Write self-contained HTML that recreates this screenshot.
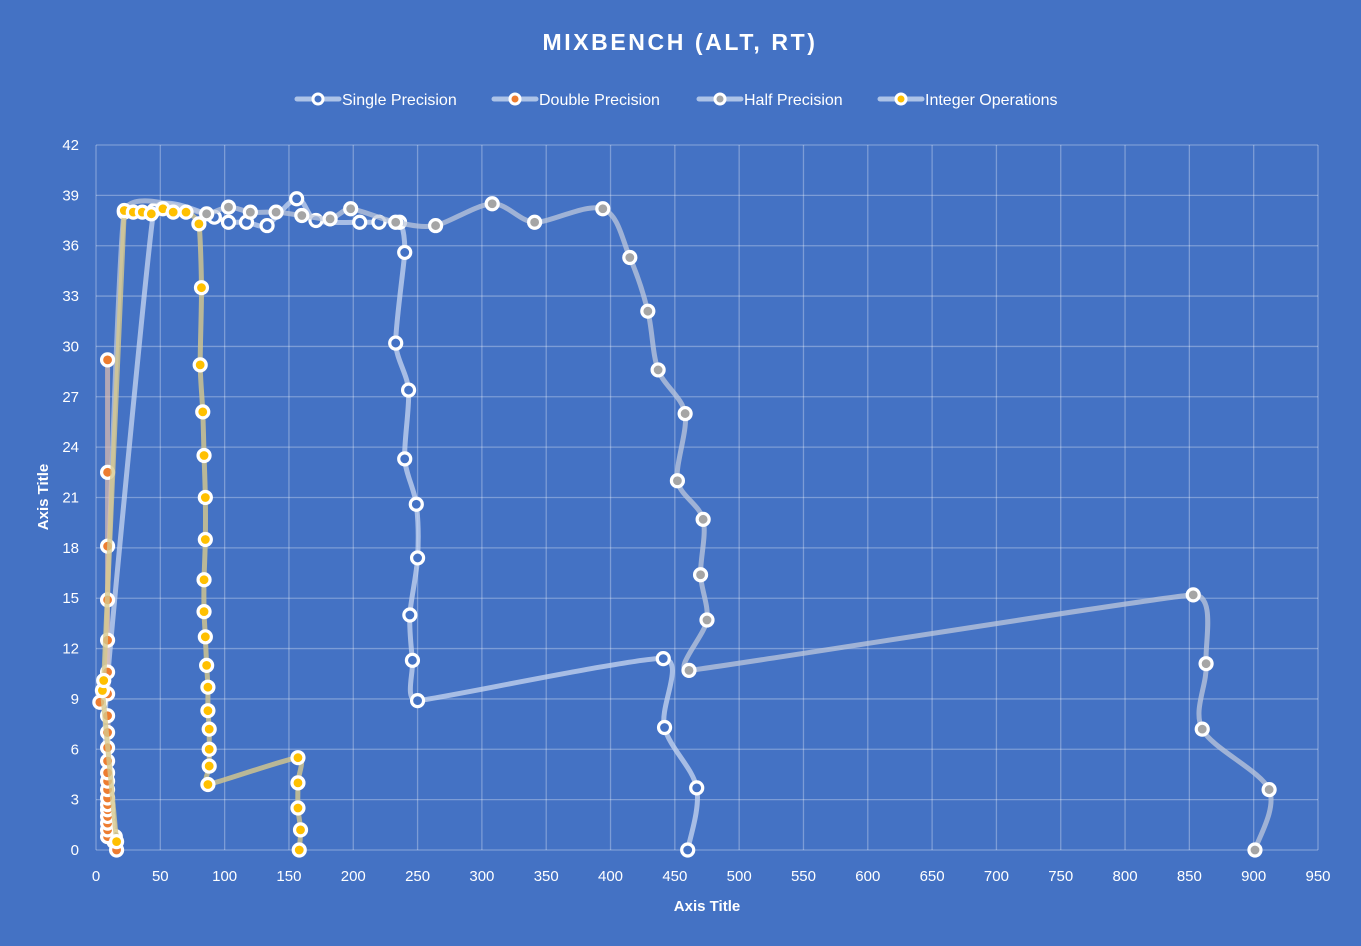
<!DOCTYPE html>
<html><head><meta charset="utf-8"><style>
body{margin:0;background:#4472c4;}
svg{display:block;font-family:"Liberation Sans",sans-serif;}
</style></head><body>
<svg id="chart" width="1361" height="946">
<rect width="1361" height="946" fill="#4472c4"/>
<text x="680" y="50" text-anchor="middle" fill="#fff" font-size="23" font-weight="bold" letter-spacing="2.6">MIXBENCH  (ALT, RT)</text>
<g id="grid"></g>
<g id="series"></g>
<g id="ticks"></g>
<text x="707" y="911" text-anchor="middle" fill="#fff" font-size="15" font-weight="bold">Axis Title</text>
<text transform="translate(48,497) rotate(-90)" text-anchor="middle" fill="#fff" font-size="15" font-weight="bold">Axis Title</text>
<g id="legend"></g>
</svg>
<script>
const xTicks=[0,50,100,150,200,250,300,350,400,450,500,550,600,650,700,750,800,850,900,950];
const yTicks=[0,3,6,9,12,15,18,21,24,27,30,33,36,39,42];
const seriesNames=["Single Precision","Double Precision","Half Precision","Integer Operations"];
const singleX=[14,10,8,45,92,103,117,133,156,171,205,220,236,240,233,243,240,249,250,244,246,250,441,442,467,460];
const singleY=[0.5,1.5,9.3,38.1,37.7,37.4,37.4,37.2,38.8,37.5,37.4,37.4,37.4,35.6,30.2,27.4,23.3,20.6,17.4,14,11.3,8.9,11.4,7.3,3.7,0];
const doubleX=[16,9,9,9,9,9,9,9,9,9,9,9,9,9,9,3,9,9,9,9,9,9,9];
const doubleY=[0,0.8,1.2,1.6,2.0,2.4,2.7,3.1,3.6,4.1,4.6,5.3,6.1,7.0,8.0,8.8,9.3,10.6,12.5,14.9,18.1,22.5,29.2];
const halfX=[15,7,22,86,103,120,140,160,182,198,233,264,308,341,394,415,429,437,458,452,472,470,475,461,853,863,860,912,901];
const halfY=[0.8,9.4,38.0,37.9,38.3,38.0,38.0,37.8,37.6,38.2,37.4,37.2,38.5,37.4,38.2,35.3,32.1,28.6,26.0,22.0,19.7,16.4,13.7,10.7,15.2,11.1,7.2,3.6,0];
const intX=[16,5,6,22,29,36,43,52,60,70,80,82,81,83,84,85,85,84,84,85,86,87,87,88,88,88,87,157,157,157,159,158];
const intY=[0.5,9.5,10.1,38.1,38.0,38.0,37.9,38.2,38.0,38.0,37.3,33.5,28.9,26.1,23.5,21.0,18.5,16.1,14.2,12.7,11.0,9.7,8.3,7.2,6.0,5.0,3.9,5.5,4.0,2.5,1.2,0];

const NS="http://www.w3.org/2000/svg";
const X0=96,X1=1318,Y0=850,Y1=145;
const sx=v=>X0+v*(X1-X0)/950;
const sy=v=>Y0-v*(Y0-Y1)/42;
function mk(tag,attrs,parent){const e=document.createElementNS(NS,tag);for(const k in attrs)e.setAttribute(k,attrs[k]);parent.appendChild(e);return e;}
const grid=document.getElementById('grid'),ticks=document.getElementById('ticks');
xTicks.forEach(t=>{
  const l=mk('line',{x1:sx(t),x2:sx(t),y1:Y1,y2:Y0,stroke:'rgba(255,255,255,0.3)','stroke-width':1.3},grid);
  
  
  const tx=mk('text',{x:sx(t),y:881,'text-anchor':'middle',fill:'#fff','font-size':15},ticks);
  tx.textContent=t;
  
  
});
yTicks.forEach(t=>{
  const l=mk('line',{x1:X0,x2:X1,y1:sy(t),y2:sy(t),stroke:'rgba(255,255,255,0.3)','stroke-width':1.3},grid);
  
  
  const tx=mk('text',{x:79,y:sy(t)+5,'text-anchor':'end',fill:'#fff','font-size':15},ticks);
  tx.textContent=t;
  
  
});
const dist=(a,b)=>Math.hypot(a[0]-b[0],a[1]-b[1]);
function tangent(pts,i){
  const p0=pts[i-1]||pts[i],p1=pts[i],p2=pts[i+1]||pts[i];
  let tx=(p2[0]-p0[0])/6,ty=(p2[1]-p0[1])/6;
  const len=Math.hypot(tx,ty);
  const segs=[];
  if(pts[i-1])segs.push(dist(p0,p1));
  if(pts[i+1])segs.push(dist(p1,p2));
  const lim=0.33*Math.min(...segs);
  if(len>lim&&len>0){tx*=lim/len;ty*=lim/len;}
  return [tx,ty];
}
function smooth(pts){
  let d=`M${pts[0][0]},${pts[0][1]}`;
  for(let i=0;i<pts.length-1;i++){
    const p1=pts[i],p2=pts[i+1];
    const t1=tangent(pts,i),t2=tangent(pts,i+1);
    d+=` C${p1[0]+t1[0]},${p1[1]+t1[1]} ${p2[0]-t2[0]},${p2[1]-t2[1]} ${p2[0]},${p2[1]}`;
  }
  return d;
}
const seriesData=[[singleX,singleY],[doubleX,doubleY],[halfX,halfY],[intX,intY]];
const fills=['#4472c4','#ed7d31','#a5a5a5','#ffc000'];
const lineCols=['rgba(200,215,240,0.75)','rgba(225,190,175,0.7)','rgba(190,200,220,0.75)','rgba(215,200,140,0.8)'];
const keys=['single','double','half','integer'];
const sg=document.getElementById('series');
[0,2,1,3].forEach(i=>{
  const [xs,ys]=seriesData[i];
  const pts=xs.map((x,j)=>[sx(x),sy(ys[j])]);
  const g=mk('g',{},sg);
  
  
  const p=mk('path',{d:smooth(pts),fill:'none',stroke:lineCols[i],'stroke-width':5,'stroke-linecap':'round','stroke-linejoin':'round'},g);
  
  
  pts.forEach(q=>{
    const c=mk('circle',{cx:q[0],cy:q[1],r:6,fill:fills[i],stroke:'#fff','stroke-width':3.2},g);
    
    
  });
});
const lg=document.getElementById('legend');
const lx=[297,494,699,880];
seriesNames.forEach((n,i)=>{
  const g=mk('g',{},lg);
  
  
  mk('line',{x1:lx[i],x2:lx[i]+42,y1:99,y2:99,stroke:'rgba(200,215,240,0.8)','stroke-width':5,'stroke-linecap':'round'},g);
  mk('circle',{cx:lx[i]+21,cy:99,r:5,fill:fills[i],stroke:'#fff','stroke-width':3},g);
  const t=mk('text',{x:lx[i]+45,y:105,fill:'#fff','font-size':16},g);
  t.textContent=n;
});
</script>
</body></html>
